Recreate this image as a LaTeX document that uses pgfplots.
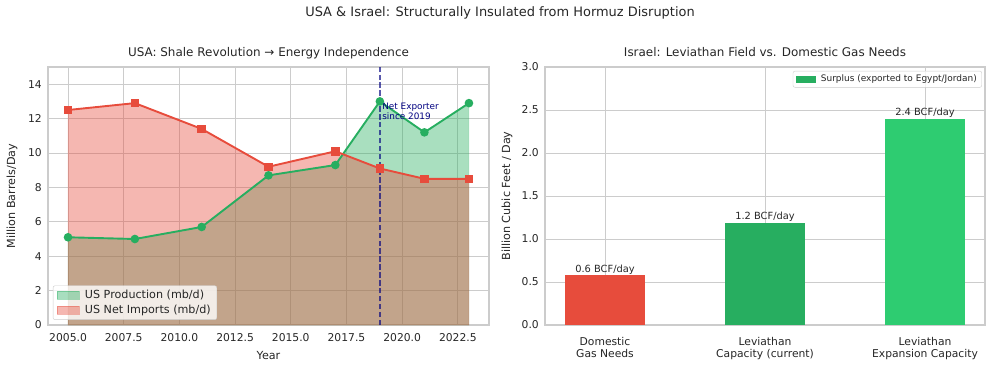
\documentclass[border=0pt]{standalone}
\usepackage{fontspec}
\setmainfont{DejaVu Sans}
\usepackage{pgfplots}
\pgfplotsset{compat=1.18}
\definecolor{txt}{HTML}{262626}
\definecolor{gridc}{HTML}{CCCCCC}
\definecolor{pgreen}{HTML}{27AE60}
\definecolor{lgreen}{HTML}{2ECC71}
\definecolor{pred}{HTML}{E74C3C}
\definecolor{navyc}{HTML}{000080}
\newcommand{\fs}[1]{\fontsize{#1}{#1}\selectfont}
\pgfplotsset{base/.style={
  scale only axis,
  axis line style={gridc, line width=1.1bp},
  grid=major, major grid style={gridc, line width=0.9bp},
  tick style={draw=none},
  /pgf/number format/assume math mode=true,
  ticklabel style={font=\fs{10.8}, text=txt},
  xticklabel style={anchor=north, inner sep=0pt, yshift=-8bp},
  yticklabel style={anchor=east, inner sep=0pt, xshift=-6bp},
  label style={font=\fs{11.2}, text=txt},
  title style={font=\fs{12}, text=txt, at={(0.5,1)}, anchor=base, yshift=5bp},
},
myarea/.style={legend image code/.code={\draw[##1, sharp corners] (0bp,-4bp) rectangle (22bp,4bp); \path (25.5bp,0bp);}},
barleg/.style={legend image code/.code={\fill[pgreen, fill opacity=1, sharp corners] (0bp,-3bp) rectangle (19bp,3bp); \path (22.5bp,0bp);}},
}
\begin{document}
\begin{tikzpicture}[x=1bp,y=1bp]
\path (0,0) rectangle (992,369);
\node[font=\fs{13}, text=txt] at (500,356) {USA \& Israel: Structurally Insulated from Hormuz Disruption};
\begin{axis}[base, at={(48bp,44bp)}, anchor=south west, width=441bp, height=258bp,
  xmin=2004.1, xmax=2023.9, ymin=0, ymax=15,
  xtick={2005,2007.5,...,2022.5}, ytick={0,2,...,14},
  xticklabel style={/pgf/number format/.cd, fixed, fixed zerofill, precision=1, 1000 sep={}},
  title={USA: Shale Revolution → Energy Independence},
  xlabel={Year}, ylabel={Million Barrels/Day},
  xlabel style={at={(axis description cs:0.5,0)}, anchor=center, yshift=-31bp},
  ylabel style={at={(axis description cs:0,0.5)}, anchor=center, yshift=36bp},
  legend style={at={(0.011,0.02)}, anchor=south west, fill=white, fill opacity=0.8, text opacity=1, draw=gridc, rounded corners=2bp, font=\fs{11.2}, text=txt, inner xsep=4bp, inner ysep=2.5bp, row sep=1bp},
  legend cell align=left,
]
\addplot[fill=pgreen, fill opacity=0.4, draw=pgreen, draw opacity=0.4, myarea]
  coordinates {(2005,5.1)(2008,5.0)(2011,5.7)(2014,8.7)(2017,9.3)(2019,13.0)(2021,11.2)(2023,12.9)} \closedcycle;
\addlegendentry{US Production (mb/d)}
\addplot[fill=pred, fill opacity=0.4, draw=pred, draw opacity=0.4, myarea]
  coordinates {(2005,12.5)(2008,12.9)(2011,11.4)(2014,9.2)(2017,10.1)(2019,9.1)(2021,8.5)(2023,8.5)} \closedcycle;
\addlegendentry{US Net Imports (mb/d)}
\addplot[forget plot, pgreen, line width=1.9bp, mark=*, mark size=3.3bp, mark options={fill=pgreen, draw=pgreen}]
  coordinates {(2005,5.1)(2008,5.0)(2011,5.7)(2014,8.7)(2017,9.3)(2019,13.0)(2021,11.2)(2023,12.9)};
\addplot[forget plot, pred, line width=1.9bp, mark=square*, mark size=3.3bp, mark options={fill=pred, draw=pred}]
  coordinates {(2005,12.5)(2008,12.9)(2011,11.4)(2014,9.2)(2017,10.1)(2019,9.1)(2021,8.5)(2023,8.5)};
\addplot[forget plot, navyc, draw opacity=0.65, line width=1.5bp, dash pattern=on 5.5bp off 2.4bp]
  coordinates {(2019,0)(2019,15)};
\node[anchor=north west, align=left, font=\fontsize{8.9}{10.5}\selectfont, text=navyc, inner sep=0pt] at (axis cs:2019.1,12.93) {Net Exporter\\since 2019};
\end{axis}
\begin{axis}[base, at={(545bp,44bp)}, anchor=south west, width=440bp, height=258bp,
  xmin=-0.375, xmax=2.375, ymin=0, ymax=3,
  xtick={0,1,2}, ytick={0,0.5,...,3},
  xticklabels={{Domestic\\Gas Needs},{Leviathan\\Capacity (current)},{Leviathan\\Expansion Capacity}},
  xticklabel style={align=center, font=\fontsize{10.8}{12}\selectfont},
  yticklabel style={/pgf/number format/.cd, fixed, fixed zerofill, precision=1},
  title={Israel: Leviathan Field vs. Domestic Gas Needs},
  ylabel={Billion Cubic Feet / Day},
  ylabel style={at={(axis description cs:0,0.5)}, anchor=center, yshift=38bp},
  ybar, bar width=0.5, bar shift=0pt,
  legend style={at={(0.993,0.985)}, anchor=north east, fill=white, fill opacity=0.8, text opacity=1, draw=gridc, rounded corners=2bp, font=\fs{9}, text=txt, inner xsep=3bp, inner ysep=2bp},
]
\addplot[forget plot, fill=pred, draw=none] coordinates {(0,0.58)};
\addplot[forget plot, fill=pgreen, draw=none] coordinates {(1,1.19)};
\addplot[forget plot, fill=lgreen, draw=none] coordinates {(2,2.4)};
\addlegendimage{barleg}
\addlegendentry{Surplus (exported to Egypt/Jordan)}
\node[anchor=base, font=\fs{9.9}, text=txt] at ([yshift=3bp]axis cs:0,0.58) {0.6 BCF/day};
\node[anchor=base, font=\fs{9.9}, text=txt] at ([yshift=3bp]axis cs:1,1.19) {1.2 BCF/day};
\node[anchor=base, font=\fs{9.9}, text=txt] at ([yshift=3bp]axis cs:2,2.4) {2.4 BCF/day};
\end{axis}
\end{tikzpicture}
\end{document}
